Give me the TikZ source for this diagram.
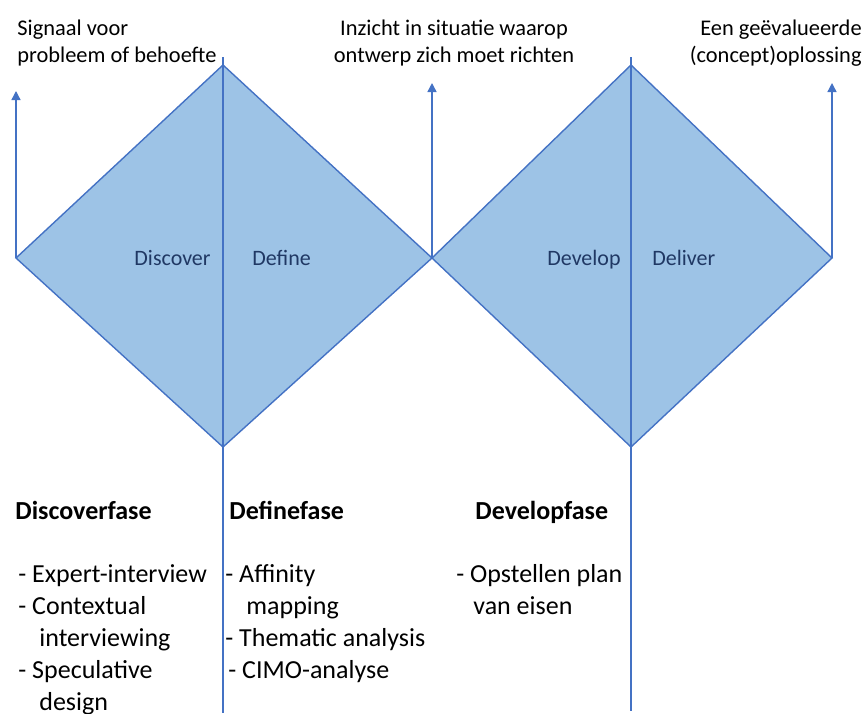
\documentclass[tikz,border=0pt]{standalone}
\usepackage{fontspec}
\setmainfont{Carlito}
\usetikzlibrary{arrows.meta}
\definecolor{ruitblauw}{HTML}{9DC3E6}
\definecolor{lijnblauw}{HTML}{4472C4}
\definecolor{fasetekst}{HTML}{203864}
\tikzstyle{ruit} = [draw=lijnblauw, fill=ruitblauw, line width=0.7pt, line join=miter]
\tikzstyle{scheiding} = [draw=lijnblauw, line width=0.6pt]
\tikzstyle{pijl} = [draw=lijnblauw, line width=0.7pt, -{Triangle[length=4.5pt,width=4.5pt]}]
\tikzstyle{fase} = [text=fasetekst, inner sep=0pt, font=\fontsize{11}{13.5}\selectfont]
\tikzstyle{uitkomst} = [inner sep=0pt, font=\fontsize{11.2}{13.5}\selectfont]
\tikzstyle{kop} = [inner sep=0pt, anchor=base west, font=\fontsize{13}{16}\selectfont\bfseries]
\tikzstyle{methode} = [inner sep=0pt, anchor=base west, align=left, font=\fontsize{13}{16}\selectfont]

\begin{document}
\begin{tikzpicture}[x=0.5pt, y=-0.5pt]
        \useasboundingbox (0,0) rectangle (867,713);
        % ruiten
        \coordinate (start) at (16,258);
        \coordinate (top1) at (223,65);
        \coordinate (mid) at (432,258);
        \coordinate (bot1) at (223,447);
        \coordinate (top2) at (631,65);
        \coordinate (eind) at (832,258);
        \coordinate (bot2) at (631,447);
        \draw[ruit] (start) -- (top1) -- (mid) -- (bot1) -- cycle;
        \draw[ruit] (mid) -- (top2) -- (eind) -- (bot2) -- cycle;
        % scheidingslijnen
        \coordinate (lijn1a) at (223,57);
        \coordinate (lijn1b) at (223,713);
        \coordinate (lijn2a) at (631,57);
        \coordinate (lijn2b) at (631,711);
        \draw[scheiding] (lijn1a) -- (lijn1b);
        \draw[scheiding] (lijn2a) -- (lijn2b);
        % pijlen
        \coordinate (pijl1) at (16,91);
        \coordinate (pijl2) at (432,83);
        \coordinate (pijl3) at (832,83);
        \draw[pijl] (start) -- (pijl1);
        \draw[pijl] (mid) -- (pijl2);
        \draw[pijl] (eind) -- (pijl3);
        % fasen
        \node[fase, anchor=base east] (discover) at (211,265) {Discover};
        \node[fase, anchor=base west] (define) at (252,265) {Define};
        \node[fase, anchor=base east] (develop) at (621,265) {Develop};
        \node[fase, anchor=base west] (deliver) at (652,265) {Deliver};
        % uitkomsten (base = laatste regel)
        \node[uitkomst, anchor=base west, align=left] (signaal) at (17,62) {Signaal voor\\probleem of behoefte};
        \node[uitkomst, anchor=base, align=center] (inzicht) at (454,62) {Inzicht in situatie waarop\\ontwerp zich moet richten};
        \node[uitkomst, anchor=base east, align=right] (oplossing) at (862,62) {Een geëvalueerde\\(concept)oplossing};
        % methoden
        \node[kop] (discoverfase) at (15,519) {Discoverfase};
        \node[kop] (definefase) at (229,519) {Definefase};
        \node[kop] (developfase) at (475,519) {Developfase};
        \node[methode] (discoverlijst) at (18,710) {- Expert-interview\\- Contextual\\\hspace*{10.5pt}interviewing\\- Speculative\\\hspace*{10.5pt}design};
        \node[methode] (definelijst) at (225,678) {- Affinity\\\hspace*{10.5pt}mapping\\- Thematic analysis\\\hspace*{1.5pt}- CIMO-analyse};
        \node[methode] (developlijst) at (456,614) {- Opstellen plan\\\hspace*{8.5pt}van eisen};
\end{tikzpicture}
\end{document}
